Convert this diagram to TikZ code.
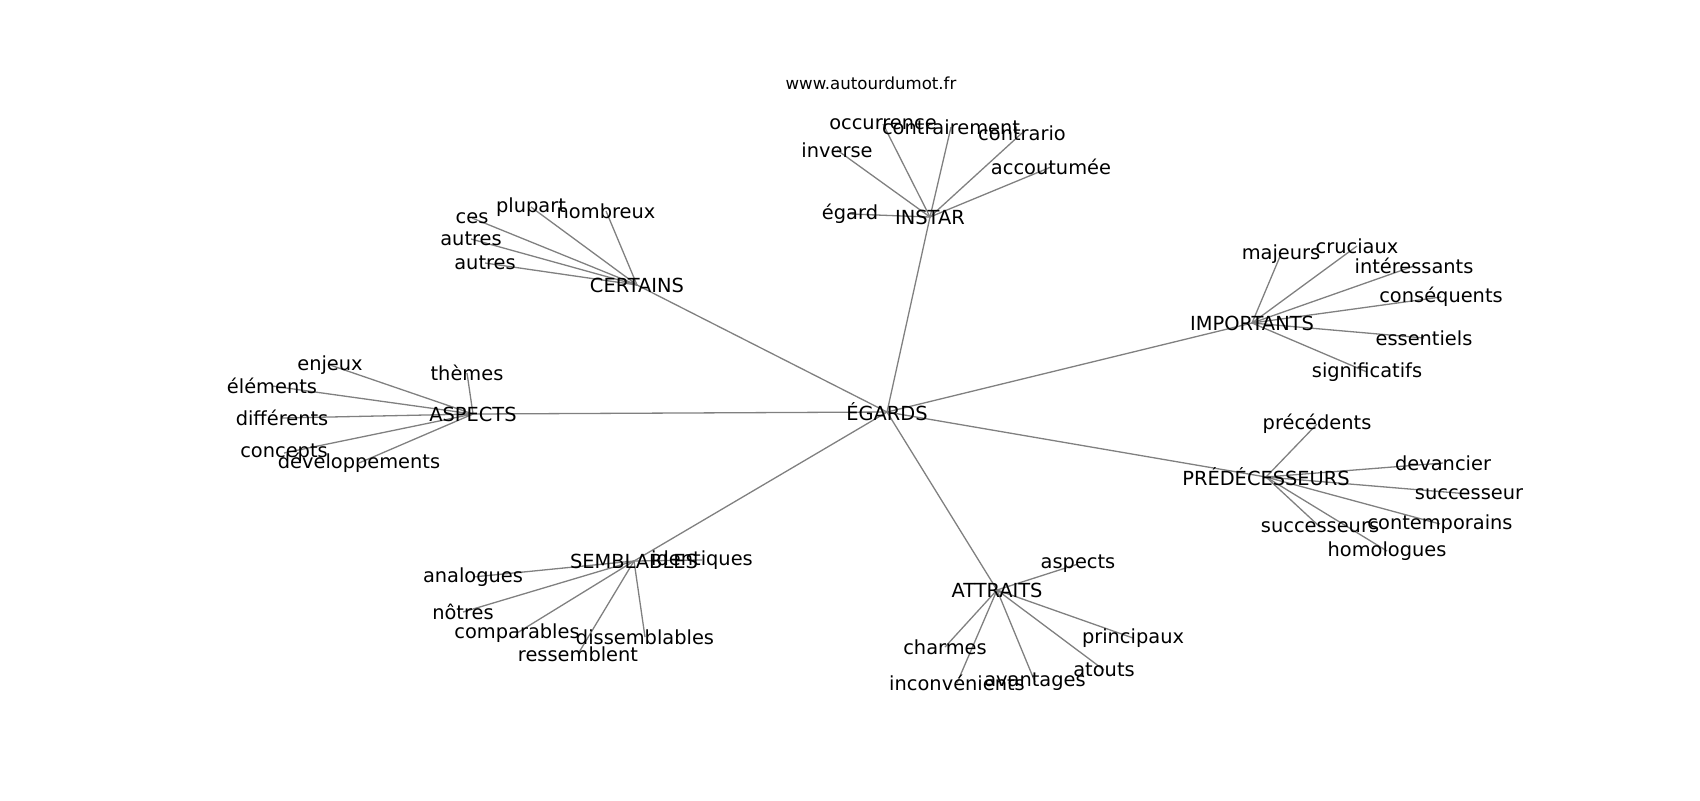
\documentclass[tikz,border=0pt]{standalone}
\usepackage{fontspec}
\setmainfont{DejaVu Sans}
\usetikzlibrary{backgrounds}
\begin{document}
\begin{tikzpicture}[x=0.5pt,y=-0.5pt,
  word/.style={font=\fontsize{9.7}{11}\selectfont,inner sep=0pt},
  link/.style={draw=gray,line width=0.65pt}]
\useasboundingbox (0,0) rectangle (1700,800);
\node[font=\fontsize{8.3}{10}\selectfont,inner sep=0pt] (site) at (871,83) {www.autourdumot.fr};
\node[word] (EGARDS) at (887,412) {ÉGARDS};
\node[word] (INSTAR) at (930,217) {INSTAR};
\node[word] (CERTAINS) at (637,285) {CERTAINS};
\node[word] (ASPECTS) at (473,414) {ASPECTS};
\node[word] (IMPORTANTS) at (1252,323) {IMPORTANTS};
\node[word] (PREDECESSEURS) at (1266,477) {PRÉDÉCESSEURS};
\node[word] (SEMBLABLES) at (634,561) {SEMBLABLES};
\node[word] (ATTRAITS) at (997,590) {ATTRAITS};
\node[word] (occurrence) at (883,124) {occurrence};
\node[word] (contrairement) at (951,127) {contrairement};
\node[word] (contrario) at (1022,133) {contrario};
\node[word] (inverse) at (837,150) {inverse};
\node[word] (accoutumee) at (1051,167) {accoutumée};
\node[word] (egard) at (850,214) {égard};
\node[word] (plupart) at (531,207) {plupart};
\node[word] (nombreux) at (606,211) {nombreux};
\node[word] (ces) at (472,218) {ces};
\node[word] (autresA) at (471,239) {autres};
\node[word] (autresB) at (485,263) {autres};
\node[word] (enjeux) at (330,365) {enjeux};
\node[word] (themes) at (467,373) {thèmes};
\node[word] (elements) at (272,386) {éléments};
\node[word] (differents) at (282,418) {différents};
\node[word] (concepts) at (284,453) {concepts};
\node[word] (developpements) at (359,463) {développements};
\node[word] (majeurs) at (1281,254) {majeurs};
\node[word] (cruciaux) at (1357,246) {cruciaux};
\node[word] (interessants) at (1414,266) {intéressants};
\node[word] (consequents) at (1441,297) {conséquents};
\node[word] (essentiels) at (1424,338) {essentiels};
\node[word] (significatifs) at (1367,372) {significatifs};
\node[word] (precedents) at (1317,424) {précédents};
\node[word] (devancier) at (1443,463) {devancier};
\node[word] (successeur) at (1469,494) {successeur};
\node[word] (contemporains) at (1440,524) {contemporains};
\node[word] (successeurs) at (1320,527) {successeurs};
\node[word] (homologues) at (1387,551) {homologues};
\node[word] (identiques) at (702,560) {identiques};
\node[word] (analogues) at (473,577) {analogues};
\node[word] (notres) at (463,612) {nôtres};
\node[word] (comparables) at (517,633) {comparables};
\node[word] (dissemblables) at (645,637) {dissemblables};
\node[word] (ressemblent) at (578,654) {ressemblent};
\node[word] (aspects) at (1078,564) {aspects};
\node[word] (principaux) at (1133,638) {principaux};
\node[word] (charmes) at (945,647) {charmes};
\node[word] (atouts) at (1104,670) {atouts};
\node[word] (inconvenients) at (957,683) {inconvénients};
\node[word] (avantages) at (1035,682) {avantages};
\begin{scope}[on background layer]
\foreach \h in {INSTAR,CERTAINS,ASPECTS,IMPORTANTS,PREDECESSEURS,SEMBLABLES,ATTRAITS}
  \draw[link] (EGARDS.center) -- (\h.center);
\foreach \w in {occurrence,contrairement,contrario,inverse,accoutumee,egard}
  \draw[link] (INSTAR.center) -- (\w.center);
\foreach \w in {plupart,nombreux,ces,autresA,autresB}
  \draw[link] (CERTAINS.center) -- (\w.center);
\foreach \w in {enjeux,themes,elements,differents,concepts,developpements}
  \draw[link] (ASPECTS.center) -- (\w.center);
\foreach \w in {majeurs,cruciaux,interessants,consequents,essentiels,significatifs}
  \draw[link] (IMPORTANTS.center) -- (\w.center);
\foreach \w in {precedents,devancier,successeur,contemporains,successeurs,homologues}
  \draw[link] (PREDECESSEURS.center) -- (\w.center);
\foreach \w in {identiques,analogues,notres,comparables,dissemblables,ressemblent}
  \draw[link] (SEMBLABLES.center) -- (\w.center);
\foreach \w in {aspects,principaux,charmes,atouts,inconvenients,avantages}
  \draw[link] (ATTRAITS.center) -- (\w.center);
\end{scope}
\end{tikzpicture}
\end{document}
